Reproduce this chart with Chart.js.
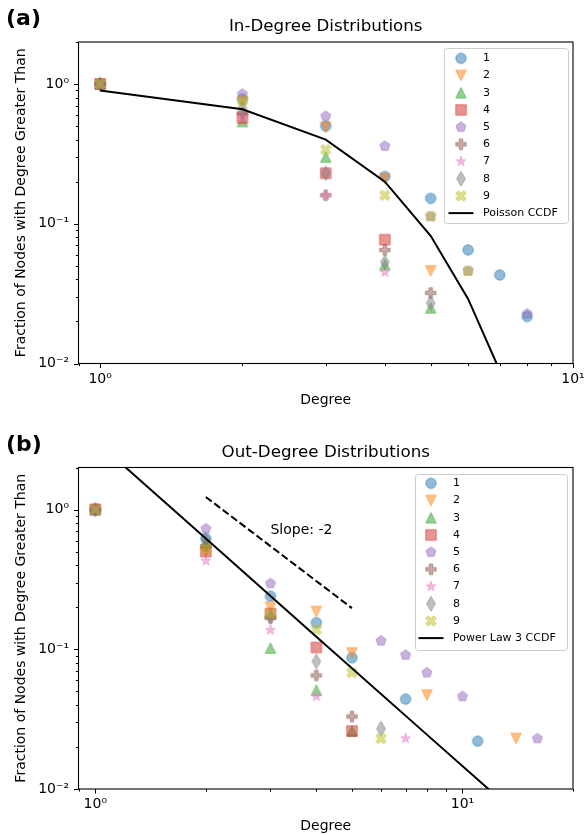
<!DOCTYPE html>
<html lang="en">
<head>
    <meta charset="UTF-8">
    <title>Degree Distributions</title>
    <script src="https://cdn.jsdelivr.net/npm/chart.js"></script>
    <style>
        body { margin: 0; background: #fff; }
        canvas { display: block; }
    </style>
</head>
<body>
    <canvas id="inChart" width="585" height="420"></canvas>
    <canvas id="outChart" width="585" height="415"></canvas>

    <script>
        // Series styling (labels 1..9)
        const seriesLabels = ['1', '2', '3', '4', '5', '6', '7', '8', '9'];
        const seriesColors = ['#1f77b4', '#ff7f0e', '#2ca02c', '#d62728', '#9467bd', '#8c564b', '#e377c2', '#7f7f7f', '#bcbd22'];
        const seriesShapes = ['circle', 'triDown', 'triUp', 'square', 'pentagon', 'plus', 'star', 'thinDiamond', 'xFilled'];

        // (a) In-degree CCDF, one value per degree (null = no point)
        const inDegrees = [1, 2, 3, 4, 5, 6, 7, 8];
        const in1 = [1, 0.78, 0.50, 0.218, 0.152, 0.065, 0.043, 0.0217];
        const in2 = [1, 0.75, 0.49, 0.21, 0.046, null, null, null];
        const in3 = [1, 0.54, 0.30, 0.051, 0.025, null, null, null];
        const in4 = [1, 0.57, 0.23, 0.077, null, null, null, null];
        const in5 = [1, 0.85, 0.59, 0.36, 0.113, 0.046, null, 0.0227];
        const in6 = [1, 0.62, 0.16, 0.065, 0.032, null, null, null];
        const in7 = [1, 0.57, 0.16, 0.045, null, null, null, null];
        const in8 = [1, 0.67, 0.23, 0.053, 0.027, null, null, null];
        const in9 = [1, 0.76, 0.34, 0.16, 0.113, 0.046, null, null];
        const poissonX = [1, 2, 3, 4, 5, 6, 7, 8];
        const poissonY = [0.90, 0.66, 0.40, 0.20, 0.082, 0.029, 0.0089, 0.0025];

        // (b) Out-degree CCDF
        const outDegrees = [1, 2, 3, 4, 5, 6, 7, 8, 10, 11, 14, 16];
        const out1 = [1, 0.62, 0.24, 0.155, 0.087, null, 0.044, null, null, 0.022, null, null];
        const out2 = [1, 0.50, 0.20, 0.186, 0.094, null, null, 0.047, null, null, 0.023, null];
        const out3 = [1, 0.58, 0.102, 0.051, 0.026, null, null, null, null, null, null, null];
        const out4 = [1, 0.50, 0.18, 0.103, 0.026, null, null, null, null, null, null, null];
        const out5 = [1, 0.73, 0.296, null, null, 0.115, 0.091, 0.068, 0.046, null, null, 0.023];
        const out6 = [1, 0.55, 0.168, 0.065, 0.033, null, null, null, null, null, null, null];
        const out7 = [1, 0.43, 0.137, 0.046, null, null, 0.023, null, null, null, null, null];
        const out8 = [1, 0.61, 0.17, 0.082, null, 0.027, null, null, null, null, null, null];
        const out9 = [1, 0.52, 0.18, 0.138, 0.068, 0.023, null, null, null, null, null, null];
        const powerX = [1, 2, 4, 8, 16];
        const powerY = [3.12, 0.62, 0.123, 0.0245, 0.0049];
        const slopeX = [2, 5];
        const slopeY = [1.23, 0.197];

        Chart.defaults.font.family = '"DejaVu Sans", sans-serif';
        Chart.defaults.color = '#000';

        // matplotlib-like filled markers drawn on small canvases
        function shapePoints(shape, r) {
            const pts = [];
            if (shape === 'triDown') return [[0, -r], [-r, r], [r, r]];
            if (shape === 'triUp') return [[0, r], [-r, -r], [r, -r]];
            if (shape === 'square') return [[-r, -r], [r, -r], [r, r], [-r, r]];
            if (shape === 'pentagon') {
                for (let k = 0; k < 5; k++) {
                    const a = Math.PI / 2 + k * 2 * Math.PI / 5;
                    pts.push([r * Math.cos(a), r * Math.sin(a)]);
                }
                return pts;
            }
            if (shape === 'star') {
                for (let k = 0; k < 10; k++) {
                    const a = Math.PI / 2 + k * Math.PI / 5;
                    const rr = k % 2 ? r * 0.382 : r;
                    pts.push([rr * Math.cos(a), rr * Math.sin(a)]);
                }
                return pts;
            }
            if (shape === 'plus') {
                const u = r / 3;
                return [[-u, -3 * u], [u, -3 * u], [u, -u], [3 * u, -u], [3 * u, u], [u, u],
                        [u, 3 * u], [-u, 3 * u], [-u, u], [-3 * u, u], [-3 * u, -u], [-u, -u]];
            }
            if (shape === 'thinDiamond') {
                const h = r * 1.41, w = h * 0.6;
                return [[0, h], [w, 0], [0, -h], [-w, 0]];
            }
            if (shape === 'xFilled') {
                const u = r / 2;
                return [[-u, -2 * u], [0, -u], [u, -2 * u], [2 * u, -u], [u, 0], [2 * u, u],
                        [u, 2 * u], [0, u], [-u, 2 * u], [-2 * u, u], [-u, 0], [-2 * u, -u]];
            }
            return pts;
        }

        function makeMarker(shape, color) {
            const size = 20, c = size / 2, r = 5.25;
            const cv = document.createElement('canvas');
            cv.width = size;
            cv.height = size;
            const ctx = cv.getContext('2d');
            ctx.beginPath();
            if (shape === 'circle') {
                ctx.arc(c, c, r, 0, 2 * Math.PI);
            } else {
                shapePoints(shape, r).forEach(([px, py], i) => {
                    if (i) ctx.lineTo(c + px, c - py); else ctx.moveTo(c + px, c - py);
                });
                ctx.closePath();
            }
            ctx.globalAlpha = 0.5;
            ctx.fillStyle = color;
            ctx.fill();
            ctx.lineWidth = 1;
            ctx.strokeStyle = color;
            ctx.stroke();
            return cv;
        }

        const markers = seriesShapes.map((s, i) => makeMarker(s, seriesColors[i]));

        function toPoints(xs, ys) {
            return xs.map((x, i) => ({ x: x, y: ys[i] })).filter(p => p.y !== null);
        }

        function scatterSets(xs, seriesList) {
            return seriesList.map((ys, i) => ({
                label: seriesLabels[i],
                data: toPoints(xs, ys),
                pointStyle: markers[i],
                pointRadius: 6,
                pointHoverRadius: 6,
                showLine: false
            }));
        }

        function lineSet(label, xs, ys, dash, hide) {
            return {
                label: label,
                data: toPoints(xs, ys),
                showLine: true,
                borderColor: '#000',
                borderWidth: 2,
                borderDash: dash || [],
                pointRadius: 0,
                tension: 0,
                hideInLegend: !!hide
            };
        }

        // Tick labels: only powers of ten, as 10 with a superscript
        const SUP = { '0': '⁰', '1': '¹', '2': '²', '3': '³', '4': '⁴', '5': '⁵', '6': '⁶', '7': '⁷', '8': '⁸', '9': '⁹', '-': '⁻' };
        function isPow10(v) {
            const l = Math.log10(v);
            return Math.abs(l - Math.round(l)) < 1e-9;
        }
        function pow10Label(v) {
            if (!isPow10(v)) return '';
            const e = Math.round(Math.log10(v));
            return '10' + String(e).split('').map(ch => SUP[ch]).join('');
        }

        function drawTicks(ctx, scale, horizontal, area) {
            const lo = Math.floor(Math.log10(scale.min));
            const hi = Math.ceil(Math.log10(scale.max));
            ctx.strokeStyle = '#000';
            ctx.lineWidth = 1;
            for (let e = lo; e <= hi; e++) {
                for (let k = 1; k < 10; k++) {
                    const v = k * Math.pow(10, e);
                    if (v < scale.min * 0.9999 || v > scale.max * 1.0001) continue;
                    const len = k === 1 ? 4.5 : 2.6;
                    const p = Math.round(scale.getPixelForValue(v)) + 0.5;
                    ctx.beginPath();
                    if (horizontal) {
                        ctx.moveTo(p, area.bottom);
                        ctx.lineTo(p, area.bottom + len);
                    } else {
                        ctx.moveTo(area.left, p);
                        ctx.lineTo(area.left - len, p);
                    }
                    ctx.stroke();
                }
            }
        }

        // Title, panel tag, spines, ticks, legend and note
        function makeDecor(cfg) {
            return {
                id: 'decor',
                afterDraw(chart) {
                    const ctx = chart.ctx;
                    const area = chart.chartArea;
                    ctx.save();

                    // spines
                    ctx.strokeStyle = '#000';
                    ctx.lineWidth = 1.1;
                    ctx.strokeRect(area.left, area.top, area.right - area.left, area.bottom - area.top);
                    drawTicks(ctx, chart.scales.x, true, area);
                    drawTicks(ctx, chart.scales.y, false, area);

                    // title and tag
                    ctx.fillStyle = '#000';
                    ctx.textBaseline = 'middle';
                    ctx.textAlign = 'center';
                    ctx.font = '16.7px "DejaVu Sans"';
                    ctx.fillText(cfg.title, (area.left + area.right) / 2, cfg.titleY);
                    ctx.textAlign = 'left';
                    ctx.font = 'bold 22px "DejaVu Sans"';
                    ctx.fillText(cfg.tag, 6, cfg.tagY);

                    // note text in data coordinates
                    if (cfg.note) {
                        ctx.font = '14px "DejaVu Sans"';
                        ctx.fillText(cfg.note.text,
                            chart.scales.x.getPixelForValue(cfg.note.x),
                            chart.scales.y.getPixelForValue(cfg.note.y));
                    }

                    // legend
                    const lg = cfg.legend;
                    ctx.beginPath();
                    ctx.roundRect(lg.x0 + 0.5, lg.y0 + 0.5, lg.x1 - lg.x0, lg.y1 - lg.y0, 3);
                    ctx.fillStyle = 'rgba(255,255,255,0.8)';
                    ctx.fill();
                    ctx.strokeStyle = '#cccccc';
                    ctx.lineWidth = 1;
                    ctx.stroke();
                    ctx.font = '11px "DejaVu Sans"';
                    ctx.textAlign = 'left';
                    let row = 0;
                    chart.data.datasets.forEach(ds => {
                        if (ds.hideInLegend) return;
                        const y = lg.row0 + row * lg.step;
                        if (ds.showLine) {
                            ctx.beginPath();
                            ctx.strokeStyle = '#000';
                            ctx.lineWidth = 2;
                            ctx.setLineDash(ds.borderDash || []);
                            ctx.moveTo(lg.mx - 12.5, y);
                            ctx.lineTo(lg.mx + 12.5, y);
                            ctx.stroke();
                            ctx.setLineDash([]);
                        } else {
                            const m = ds.pointStyle;
                            ctx.drawImage(m, lg.mx - m.width / 2, y - m.height / 2);
                        }
                        ctx.fillStyle = '#000';
                        ctx.fillText(ds.label, lg.tx, y);
                        row++;
                    });
                    ctx.restore();
                }
            };
        }

        function buildChart(id, datasets, xMax, layout, decor) {
            const count = datasets.length;
            datasets.forEach((ds, i) => { ds.order = count - i; });
            return new Chart(document.getElementById(id).getContext('2d'), {
                type: 'scatter',
                data: { datasets: datasets },
                options: {
                    responsive: false,
                    animation: false,
                    events: [],
                    layout: { padding: { top: layout.top, right: 12, left: 0, bottom: 0 } },
                    plugins: {
                        legend: { display: false },
                        tooltip: { enabled: false }
                    },
                    scales: {
                        x: {
                            type: 'logarithmic',
                            min: 0.9,
                            max: xMax,
                            grid: { display: false, drawTicks: false },
                            border: { display: false },
                            ticks: {
                                autoSkip: false,
                                maxRotation: 0,
                                minRotation: 0,
                                padding: 7,
                                font: { size: 14 },
                                callback: v => pow10Label(v)
                            },
                            title: {
                                display: true,
                                text: 'Degree',
                                font: { size: 14 },
                                padding: { top: 0, bottom: layout.xTitlePad }
                            },
                            afterFit(s) {
                                s.height = layout.xHeight;
                                s.paddingLeft = 0;
                                s.paddingRight = 0;
                            }
                        },
                        y: {
                            type: 'logarithmic',
                            min: 0.01,
                            max: 2,
                            grid: { display: false, drawTicks: false },
                            border: { display: false },
                            ticks: {
                                autoSkip: false,
                                padding: 9.5,
                                font: { size: 14 },
                                callback: v => pow10Label(v)
                            },
                            title: {
                                display: true,
                                text: 'Fraction of Nodes with Degree Greater Than',
                                font: { size: 14 },
                                padding: { top: 12.6, bottom: 0 }
                            },
                            afterFit(s) {
                                s.width = 78.5;
                                s.paddingTop = 0;
                                s.paddingBottom = 0;
                            }
                        }
                    }
                },
                plugins: [makeDecor(decor)]
            });
        }

        // (a) In-Degree
        buildChart('inChart',
            scatterSets(inDegrees, [in1, in2, in3, in4, in5, in6, in7, in8, in9])
                .concat([lineSet('Poisson CCDF', poissonX, poissonY)]),
            10,
            { top: 42, xHeight: 56.5, xTitlePad: 11.6 },
            {
                title: 'In-Degree Distributions', titleY: 27, tag: '(a)', tagY: 19,
                legend: { x0: 444, y0: 48, x1: 568, y1: 223, mx: 461, tx: 483, row0: 58.3, step: 17.2 }
            });

        // (b) Out-Degree
        buildChart('outChart',
            scatterSets(outDegrees, [out1, out2, out3, out4, out5, out6, out7, out8, out9])
                .concat([
                    lineSet('Slope: -2', slopeX, slopeY, [7.4, 3.2], true),
                    lineSet('Power Law 3 CCDF', powerX, powerY)
                ]),
            20,
            { top: 47.5, xHeight: 46, xTitlePad: 0.6 },
            {
                title: 'Out-Degree Distributions', titleY: 32.5, tag: '(b)', tagY: 25,
                note: { text: 'Slope: -2', x: 3.0, y: 0.71 },
                legend: { x0: 415, y0: 54, x1: 567, y1: 230, mx: 431, tx: 453, row0: 63.3, step: 17.2 }
            });
    </script>
</body>
</html>
